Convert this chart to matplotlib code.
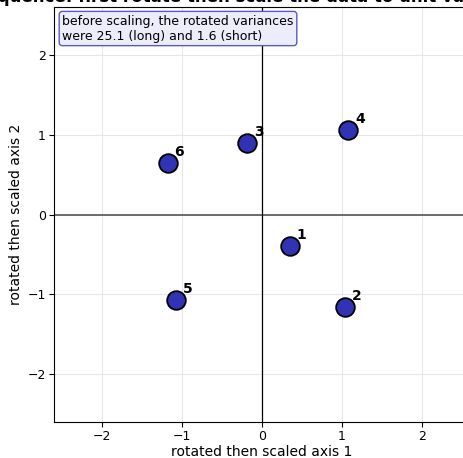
import numpy as np
import matplotlib
matplotlib.use('Agg')
import matplotlib.pyplot as plt

# Puntos rotados y escalados
labels = ['1', '2', '3', '4', '5', '6']
axis1 = [0.35, 1.04, -0.19, 1.08, -1.07, -1.18]
axis2 = [-0.39, -1.16, 0.90, 1.06, -1.07, 0.65]

ticks = [-2, -1, 0, 1, 2]
note = 'before scaling, the rotated variances\nwere 25.1 (long) and 1.6 (short)'
title = 'Consequence: first rotate then scale the data to unit variance'

fig = plt.figure(figsize=(4.63, 4.58), dpi=100)
ax = fig.add_axes([0.1166, 0.0786, 0.8985, 0.906])

ax.grid(True, color='#e6e6e6', linewidth=0.8)
ax.axhline(0, color='#555555', linewidth=1.2, zorder=2)
ax.axvline(0, color='black', linewidth=0.9, zorder=2)

ax.scatter(axis1, axis2, s=180, color='#3232b4', edgecolors='black',
           linewidths=1.3, zorder=3)
for lab, x, y in zip(labels, axis1, axis2):
    ax.annotate(lab, (x, y), xytext=(5, 5), textcoords='offset points',
                fontsize=10, fontweight='bold', zorder=4)

ax.set_xlim(-2.6, 2.6)
ax.set_ylim(-2.6, 2.6)
ax.set_xticks(ticks)
ax.set_yticks(ticks)
ax.tick_params(labelsize=9, pad=2.5)
ax.set_xlabel('rotated then scaled axis 1', fontsize=10, labelpad=1)
ax.set_ylabel('rotated then scaled axis 2', fontsize=10, labelpad=3)

ax.text(0.02, 0.982, note, transform=ax.transAxes, fontsize=9, va='top',
        ha='left', zorder=5,
        bbox=dict(boxstyle='round,pad=0.25', facecolor='#ececfa',
                  edgecolor='#5a5ac0', linewidth=1.0))

# el titulo queda casi fuera, como en la imagen original
fig.text(0.5, 1 - 2 / 458, title, ha='center', va='baseline',
         fontsize=12, fontweight='bold')

fig.savefig('out.png', dpi=100)
